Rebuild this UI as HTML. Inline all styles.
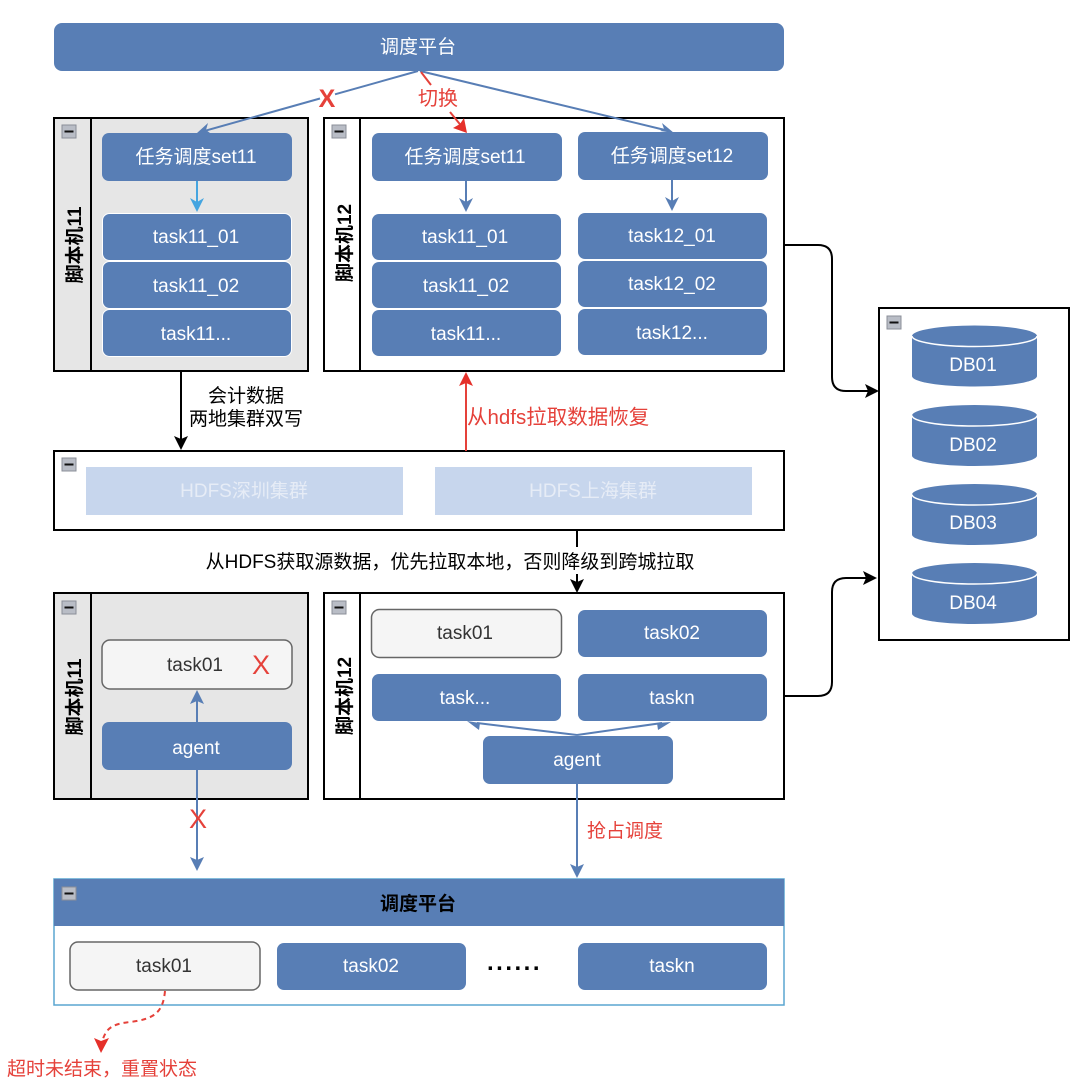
<!DOCTYPE html>
<html>
<head>
<meta charset="utf-8">
<style>
html,body{margin:0;padding:0;background:#fff}
svg{display:block}
text{font-family:"Liberation Sans","Noto Sans CJK SC",sans-serif}
.b{fill:#587eb5}
.t{fill:#fff;font-size:19px;text-anchor:middle}
.d{fill:#333;font-size:19px;text-anchor:middle}
.r{fill:#e5413a;font-size:20.500px}
.k{fill:#000;font-size:19px;text-anchor:middle}
.g{fill:#f5f5f5;stroke:#666;stroke-width:1.5}
.c{fill:none;stroke:#000;stroke-width:2}
.l{fill:none;stroke:#587eb5;stroke-width:2}
.v{fill:#000;font-size:19px;font-weight:bold;text-anchor:middle}
</style>
</head>
<body>
<svg width="1080" height="1086" viewBox="0 0 1080 1086" xmlns="http://www.w3.org/2000/svg">
<defs>
<g id="m"><rect x="0" y="0" width="14" height="13" fill="#b9bdc6" stroke="#8b8f98"/><rect x="2.500" y="5.500" width="9" height="2" fill="#111"/></g>
<g id="db"><path d="M912 11v40c0 6 28 10.500 62.500 10.500s62.500-4.500 62.500-10.500v-40z" fill="#587eb5"/><ellipse cx="974.500" cy="11" rx="62.500" ry="10.500" fill="#587eb5"/><path d="M912 11c0 6 28 10.500 62.500 10.500s62.500-4.500 62.500-10.500" fill="none" stroke="#fff" stroke-width="1.500"/></g>
</defs>

<rect x="54" y="23" width="730" height="48" rx="8" class="b"/>
<text x="418" y="53" class="t">调度平台</text>

<!-- top containers -->
<rect x="54" y="118" width="254" height="253" fill="#e6e6e6" stroke="#000" stroke-width="2"/>
<line x1="91" y1="118" x2="91" y2="371" stroke="#000" stroke-width="2"/>
<use href="#m" x="62" y="125"/>
<text transform="translate(81,245) rotate(-90)" class="v">脚本机11</text>

<rect x="324" y="118" width="460" height="253" fill="#fff" stroke="#000" stroke-width="2"/>
<line x1="360" y1="118" x2="360" y2="371" stroke="#000" stroke-width="2"/>
<use href="#m" x="332" y="125"/>
<text transform="translate(351,243) rotate(-90)" class="v">脚本机12</text>

<g stroke="#fff" stroke-width="1">
<rect x="102" y="133" width="190" height="48" rx="7" class="b" stroke="none"/>
<rect x="102.500" y="213.500" width="189" height="47" rx="7" class="b"/>
<rect x="102.500" y="261.500" width="189" height="47" rx="7" class="b"/>
<rect x="102.500" y="309.500" width="189" height="47" rx="7" class="b"/>
</g>
<text x="196" y="163" class="t">任务调度set11</text>
<text x="196" y="243" class="t">task11_01</text>
<text x="196" y="292" class="t">task11_02</text>
<text x="196" y="340" class="t">task11...</text>

<rect x="372" y="133" width="190" height="48" rx="7" class="b"/>
<rect x="372" y="214" width="189" height="46" rx="7" class="b"/>
<rect x="372" y="262" width="189" height="46" rx="7" class="b"/>
<rect x="372" y="310" width="189" height="46" rx="7" class="b"/>
<text x="465" y="163" class="t">任务调度set11</text>
<text x="465" y="243" class="t">task11_01</text>
<text x="466" y="292" class="t">task11_02</text>
<text x="466" y="340" class="t">task11...</text>

<rect x="578" y="132" width="190" height="48" rx="7" class="b"/>
<rect x="578" y="213" width="189" height="46" rx="7" class="b"/>
<rect x="578" y="261" width="189" height="46" rx="7" class="b"/>
<rect x="578" y="309" width="189" height="46" rx="7" class="b"/>
<text x="672" y="162" class="t">任务调度set12</text>
<text x="672" y="242" class="t">task12_01</text>
<text x="672" y="290" class="t">task12_02</text>
<text x="672" y="339" class="t">task12...</text>

<!-- inner arrows -->
<line x1="197" y1="181" x2="197" y2="208" stroke="#45a5e0" stroke-width="2"/>
<path d="M197 212l-7-14 7 4 7-4z" fill="#45a5e0"/>
<line x1="466" y1="181" x2="466" y2="208" stroke="#587eb5" stroke-width="2"/>
<path d="M466 212l-7-14 7 4 7-4z" fill="#587eb5"/>
<line x1="672" y1="180" x2="672" y2="207" stroke="#587eb5" stroke-width="2"/>
<path d="M672 211l-7-14 7 4 7-4z" fill="#587eb5"/>

<!-- top connectors -->
<line x1="418" y1="71" x2="335" y2="94.300" stroke="#587eb5" stroke-width="2"/>
<line x1="320" y1="98.500" x2="205" y2="130.800" stroke="#587eb5" stroke-width="2"/>
<path d="M197 133l11-10-2 7 4 3z" fill="#587eb5"/>
<text x="327" y="107" fill="#e5413a" font-size="25" font-weight="bold" text-anchor="middle">X</text>
<line x1="420" y1="71" x2="665" y2="130" stroke="#587eb5" stroke-width="2"/>
<path d="M674 133l-14-2 4-2-2-6z" fill="#587eb5"/>
<line x1="421" y1="72" x2="431" y2="85" stroke="#e5413a" stroke-width="2"/>
<line x1="450" y1="112" x2="463" y2="128" stroke="#e5413a" stroke-width="2"/>
<path d="M467 133l-14-5 7-4 4-6z" fill="#e5302a"/>
<text x="418" y="105" fill="#e5413a" font-size="20">切换</text>

<!-- to DB -->
<path d="M784 245H818Q832 245 832 259V377Q832 391 846 391H868" class="c"/>
<path d="M879 391l-14-7 3 7-3 7z" fill="#000"/>
<path d="M784 696H818Q832 696 832 682V592Q832 578 846 578H866" class="c"/>
<path d="M877 578l-14-7 3 7-3 7z" fill="#000"/>

<!-- HDFS -->
<rect x="54" y="451" width="730" height="79" fill="#fff" stroke="#000" stroke-width="2"/>
<use href="#m" x="62" y="458"/>
<rect x="86" y="467" width="317" height="48" fill="#c7d6ed"/>
<rect x="435" y="467" width="317" height="48" fill="#c7d6ed"/>
<text x="244" y="497" fill="#e6ecf6" font-size="19" text-anchor="middle">HDFS深圳集群</text>
<text x="593" y="497" fill="#e6ecf6" font-size="19" text-anchor="middle">HDFS上海集群</text>

<!-- middle connectors -->
<line x1="181" y1="371" x2="181" y2="440" stroke="#000" stroke-width="2"/>
<path d="M181 450l-7-14 7 3 7-3z" fill="#000"/>
<text x="246" y="402" class="k">会计数据</text>
<text x="246" y="425" class="k">两地集群双写</text>
<line x1="466" y1="451" x2="466" y2="382" stroke="#e5413a" stroke-width="2"/>
<path d="M466 372l-7 14 7-3 7 3z" fill="#e5302a"/>
<text x="467" y="424" class="r">从hdfs拉取数据恢复</text>
<line x1="577" y1="530" x2="577" y2="583" stroke="#000" stroke-width="2"/>
<path d="M577 593l-7-14 7 3 7-3z" fill="#000"/>
<rect x="200" y="547" width="500" height="27" fill="#fff"/>
<text x="450" y="568" class="k">从HDFS获取源数据，优先拉取本地，否则降级到跨城拉取</text>

<!-- lower containers -->
<rect x="54" y="593" width="254" height="206" fill="#e6e6e6" stroke="#000" stroke-width="2"/>
<line x1="91" y1="593" x2="91" y2="799" stroke="#000" stroke-width="2"/>
<use href="#m" x="62" y="601"/>
<text transform="translate(81,697) rotate(-90)" class="v">脚本机11</text>
<rect x="102" y="640" width="190" height="49" rx="8" class="g"/>
<text x="195" y="671" class="d">task01</text>
<text x="261" y="674" fill="#e5413a" font-size="27" text-anchor="middle">X</text>
<rect x="102" y="722" width="190" height="48" rx="7" class="b"/>
<text x="196" y="754" class="t">agent</text>

<rect x="324" y="593" width="460" height="206" fill="#fff" stroke="#000" stroke-width="2"/>
<line x1="360" y1="593" x2="360" y2="799" stroke="#000" stroke-width="2"/>
<use href="#m" x="332" y="601"/>
<text transform="translate(351,696) rotate(-90)" class="v">脚本机12</text>
<rect x="371.500" y="609.500" width="190" height="48" rx="8" class="g"/>
<text x="465" y="639" class="d">task01</text>
<rect x="578" y="610" width="189" height="47" rx="7" class="b"/>
<text x="672" y="639" class="t">task02</text>
<rect x="372" y="674" width="189" height="47" rx="7" class="b"/>
<text x="465" y="704" class="t">task...</text>
<rect x="578" y="674" width="189" height="47" rx="7" class="b"/>
<text x="672" y="704" class="t">taskn</text>
<rect x="483" y="736" width="190" height="48" rx="7" class="b"/>
<text x="577" y="766" class="t">agent</text>
<path d="M577 735L477 723M577 735L662 723" fill="none" stroke="#587eb5" stroke-width="2"/>
<path d="M467 721l13 2-1 7zM671 722l-14 1 1 7z" fill="#587eb5"/>

<!-- lower arrows -->
<line x1="197" y1="695" x2="197" y2="722" class="l"/>
<path d="M197 690l-7 14 7-3 7 3z" fill="#587eb5"/>
<line x1="197" y1="770" x2="197" y2="862" class="l"/>
<path d="M197 871l-7-14 7 3 7-3z" fill="#587eb5"/>
<text x="198" y="828" fill="#e5413a" font-size="27" text-anchor="middle">X</text>
<line x1="577" y1="784" x2="577" y2="868" class="l"/>
<path d="M577 878l-7-14 7 3 7-3z" fill="#587eb5"/>
<text x="587" y="837" fill="#e5413a" font-size="19">抢占调度</text>

<!-- bottom -->
<rect x="54" y="879" width="730" height="126" fill="#fff" stroke="#5aa5d0" stroke-width="1.500"/>
<rect x="54" y="879" width="730" height="47" class="b"/>
<use href="#m" x="62" y="887"/>
<text x="418" y="910" fill="#000" font-size="19" font-weight="bold" text-anchor="middle">调度平台</text>
<rect x="70" y="942" width="190" height="48" rx="8" class="g"/>
<text x="164" y="972" class="d">task01</text>
<rect x="277" y="943" width="189" height="47" rx="7" class="b"/>
<text x="371" y="972" class="t">task02</text>
<text x="487" y="970" fill="#000" font-size="24" font-weight="bold" letter-spacing="2.500">......</text>
<rect x="578" y="943" width="189" height="47" rx="7" class="b"/>
<text x="672" y="972" class="t">taskn</text>
<path d="M165 991C163 1012 155 1019 130 1022C112 1024 106 1028 102 1042" fill="none" stroke="#e5413a" stroke-width="2" stroke-dasharray="5 4"/>
<path d="M101 1053l-7-15 7 3 8-3z" fill="#e5302a"/>
<text x="7" y="1075" fill="#e5413a" font-size="19">超时未结束，重置状态</text>

<!-- DB panel -->
<rect x="879" y="308" width="190" height="332" fill="#fff" stroke="#000" stroke-width="2"/>
<use href="#m" x="887" y="316"/>
<use href="#db" y="325"/>
<use href="#db" y="404.500"/>
<use href="#db" y="483.500"/>
<use href="#db" y="562.500"/>
<text x="973" y="371" class="t">DB01</text>
<text x="973" y="451" class="t">DB02</text>
<text x="973" y="529" class="t">DB03</text>
<text x="973" y="609" class="t">DB04</text>
</svg>
</body>
</html>
